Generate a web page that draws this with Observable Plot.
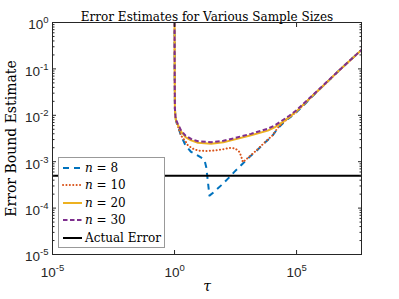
<!DOCTYPE html>
<html><head><meta charset="utf-8">
<script src="https://cdn.jsdelivr.net/npm/d3@7"></script>
<script src="https://cdn.jsdelivr.net/npm/@observablehq/plot@0.6"></script>
<style>
body{margin:0;background:#fff;}
#wrap{position:relative;width:399px;height:299px;}
#legend{position:absolute;left:58px;top:157px;width:107px;height:91px;border:1px solid #999;background:#fff;box-sizing:border-box;font-family:"DejaVu Serif",serif;font-size:12px;color:#000;}
.row{position:absolute;left:0;height:16px;display:flex;align-items:center;white-space:nowrap;}
.row svg{margin-left:3px;margin-right:3px;}
</style></head><body><div id="wrap"></div>
<script>
// ---- data ----
const titleText = "Error Estimates for Various Sample Sizes";
const yLabel = "Error Bound Estimate";
const xLabel = "τ";
const xTicks = [1e-5, 1, 1e5];
const xTickLabels = ["10^-5", "10^0", "10^5"];
const yTicks = [1e-5, 1e-4, 1e-3, 1e-2, 1e-1, 1];
const yTickLabels = ["10^-5", "10^-4", "10^-3", "10^-2", "10^-1", "10^0"];
const xDomain = [1e-5, 4.571e7];
const yDomain = [1e-5, 1];

const seriesN = ["8", "10", "20", "30"];
const actualLabel = "Actual Error";
const actualError = 5.0e-4;

// n = 8
const tau8 = [1.00, 1.012, 1.035, 1.096, 1.175, 1.38, 1.862, 2.818, 4.786, 9.12, 14.13, 16.98, 19.95, 22.91, 26.92, 39.81, 81.28, 158.5, 281.8, 631.0, 1349, 2570, 4786, 1e4, 1.698e4, 3.162e4, 5.888e4, 1e5, 1.995e5, 3.89e5, 1.585e6, 6.457e6, 4.571e7];
const err8 = [2.0, 0.1, 0.0138, 0.00891, 0.00724, 0.00575, 0.00363, 0.00224, 0.00162, 0.00135, 0.00117, 0.00107, 0.000759, 0.000398, 0.000186, 0.000219, 0.000309, 0.000437, 0.000603, 0.000912, 0.00135, 0.00182, 0.00251, 0.00355, 0.00525, 0.00724, 0.00933, 0.0117, 0.0166, 0.024, 0.049, 0.1, 0.257];
// n = 10
const tau10 = [1.00, 1.012, 1.035, 1.096, 1.175, 1.38, 1.862, 2.818, 3.548, 5.623, 9.12, 19.95, 42.66, 100, 208.9, 316.2, 457.1, 549.5, 631.0, 1349, 2570, 4786, 1e4, 1.698e4, 3.162e4, 5.888e4, 1e5, 1.995e5, 3.89e5, 1.585e6, 6.457e6, 4.571e7];
const err10 = [2.0, 0.1, 0.0138, 0.00891, 0.00724, 0.00575, 0.00363, 0.00275, 0.00224, 0.00191, 0.00174, 0.0017, 0.00174, 0.00186, 0.002, 0.00191, 0.00162, 0.00126, 0.000977, 0.00138, 0.00186, 0.00257, 0.00363, 0.00537, 0.00741, 0.00955, 0.012, 0.017, 0.0245, 0.049, 0.1, 0.257];
// n = 20 and n = 30 share the same tau grid
const tau20 = [1.00, 1.012, 1.035, 1.096, 1.175, 1.38, 1.862, 2.818, 4.786, 9.12, 31.62, 100, 208.9, 1349, 6607, 1.259e4, 2.291e4, 5.012e4, 1e5, 3.89e5, 1.585e6, 6.457e6, 4.571e7];
const err20 = [2.0, 0.1, 0.0138, 0.00891, 0.00741, 0.00617, 0.00447, 0.00339, 0.00288, 0.00257, 0.00245, 0.00263, 0.00288, 0.00372, 0.00468, 0.0055, 0.00676, 0.00912, 0.0123, 0.0245, 0.049, 0.1, 0.257];
const tau30 = tau20;
const err30 = [2.0, 0.1, 0.0141, 0.00933, 0.00776, 0.00646, 0.00468, 0.00363, 0.00309, 0.00275, 0.00263, 0.00282, 0.00309, 0.00398, 0.00513, 0.00603, 0.00741, 0.00977, 0.0129, 0.0251, 0.0501, 0.1, 0.257];

// ---- styles ----
const colors = ["#0072BD", "#D95319", "#EDB120", "#7E2F8E"];
const dashes = ["6,5", "0.1,3.3", null, "4.5,2.5"];
const caps = ["butt", "round", "butt", "butt"];

const toRows = (t, e) => t.map((v, i) => ({tau: v, err: e[i]}));
const series = [toRows(tau8, err8), toRows(tau10, err10), toRows(tau20, err20), toRows(tau30, err30)];

// minor tick positions for the log y axis
const yMinor = [];
for (let k = -5; k < 0; k++) for (let m = 2; m <= 9; m++) yMinor.push(m * Math.pow(10, k));

const axisColor = "#262626";
const serif = "'DejaVu Serif', serif";

const lineMarks = series.map((rows, i) => Plot.line(rows, {
  x: "tau", y: "err", stroke: colors[i], strokeWidth: 2,
  strokeDasharray: dashes[i] ?? undefined, strokeLinecap: caps[i], clip: true, strokeLinejoin: "round"
}));

const chart = Plot.plot({
  width: 399, height: 299,
  marginLeft: 52, marginRight: 38, marginTop: 22, marginBottom: 45,
  style: {fontFamily: "'Liberation Sans', Arial, sans-serif", fontSize: "13.5px", color: axisColor, background: "#fff", overflow: "visible"},
  x: {type: "log", domain: xDomain},
  y: {type: "log", domain: yDomain},
  marks: [
    ...lineMarks,
    Plot.ruleY([actualError], {stroke: "#000", strokeWidth: 2}),
    Plot.frame({stroke: axisColor}),
    Plot.axisX(xTicks, {anchor: "bottom", tickSize: -4, fill: "none", label: null, stroke: axisColor}),
    Plot.axisX(xTicks, {anchor: "top", tickSize: -4, fill: "none", label: null, stroke: axisColor}),
    Plot.axisY(yTicks, {anchor: "left", tickSize: -4, fill: "none", label: null, stroke: axisColor}),
    Plot.axisY(yTicks, {anchor: "right", tickSize: -4, fill: "none", label: null, stroke: axisColor}),
    Plot.axisY(yMinor, {anchor: "left", tickSize: -2.5, fill: "none", label: null, stroke: axisColor}),
    Plot.axisY(yMinor, {anchor: "right", tickSize: -2.5, fill: "none", label: null, stroke: axisColor}),
    Plot.axisX(xTicks, {anchor: "bottom", tickSize: 0, tickPadding: 13, label: null, fill: axisColor,
      tickFormat: d => xTickLabels[xTicks.indexOf(d)]}),
    Plot.axisY(yTicks, {anchor: "left", tickSize: 0, tickPadding: 4, dy: 2.5, label: null, fill: axisColor,
      tickFormat: d => yTickLabels[yTicks.indexOf(d)]}),
    Plot.text([titleText], {frameAnchor: "top", dy: -10, text: d => d, textAnchor: "middle", fontFamily: serif, fontSize: 12, fill: "#000"}),
    Plot.text([yLabel], {frameAnchor: "left", dx: -41, rotate: -90, text: d => d, textAnchor: "middle", fontFamily: serif, fontSize: 14, fill: "#000"}),
    Plot.text([xLabel], {frameAnchor: "bottom", dy: 36, text: d => d, textAnchor: "middle", fontStyle: "italic", fontFamily: serif, fontSize: 14, fill: "#000"})
  ]
});

// superscripts in tick labels
chart.querySelectorAll('g[aria-label="x-axis tick label"] text, g[aria-label="y-axis tick label"] text').forEach(t => {
  const s = t.textContent;
  if (!s.includes("^")) return;
  const [b, e] = s.split("^");
  t.textContent = b;
  const ts = document.createElementNS("http://www.w3.org/2000/svg", "tspan");
  ts.setAttribute("dy", "-6");
  ts.setAttribute("font-size", "9.5px");
  ts.textContent = e;
  t.appendChild(ts);
});

const wrap = document.getElementById("wrap");
wrap.appendChild(chart);

// legend
const legend = document.createElement("div");
legend.id = "legend";
const rowsTop = [2, 19, 37, 54, 72];
const entries = seriesN.map((n, i) => ({html: `<i>n</i> = ${n}`, color: colors[i], dash: dashes[i], cap: caps[i]}))
  .concat([{html: actualLabel, color: "#000", dash: null, cap: "butt"}]);
entries.forEach((en, i) => {
  const row = document.createElement("div");
  row.className = "row";
  row.style.top = rowsTop[i] + "px";
  row.innerHTML = `<svg width="20" height="6"><line x1="1" x2="20" y1="3" y2="3" stroke="${en.color}" stroke-width="2" stroke-linecap="${en.cap}" ${en.dash ? `stroke-dasharray="${en.dash}"` : ""}/></svg><span>${en.html}</span>`;
  legend.appendChild(row);
});
wrap.appendChild(legend);
</script>
</body></html>
